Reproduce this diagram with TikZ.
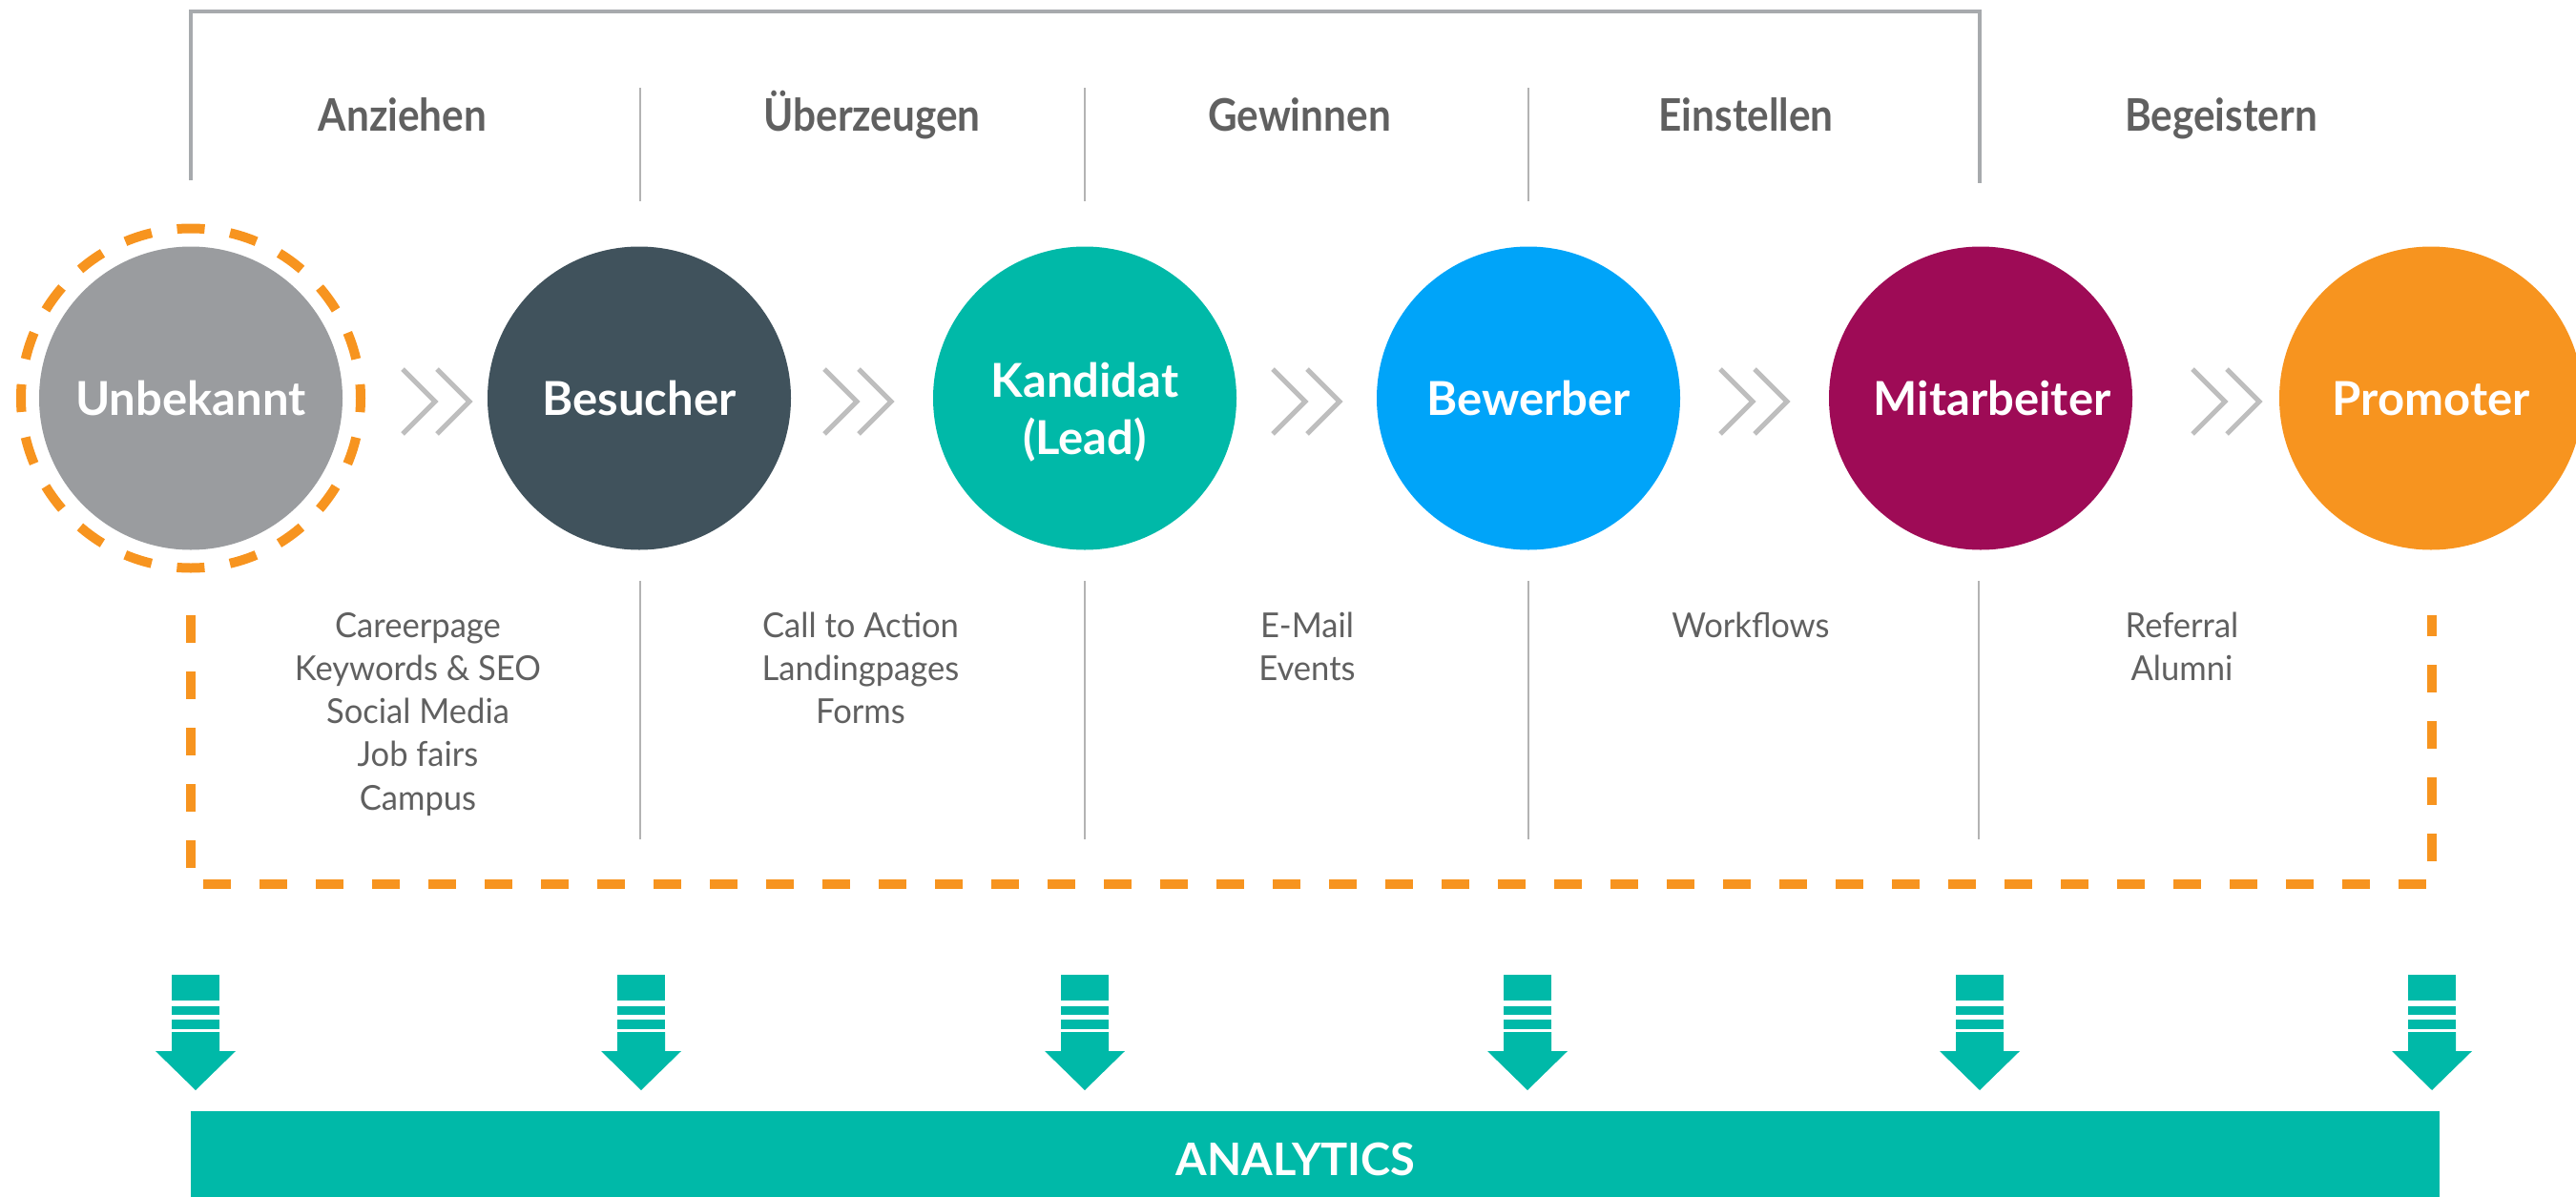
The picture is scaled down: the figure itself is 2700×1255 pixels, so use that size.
\documentclass[tikz,border=0pt]{standalone}
\usepackage{fontspec}
\setmainfont{Lato}
\newfontfamily\hdrfont[FakeStretch=0.9]{Lato}
\newfontfamily\bodyfont[FakeStretch=0.96]{Lato}
\definecolor{cgrey}{HTML}{9A9C9F}
\definecolor{cslate}{HTML}{40525C}
\definecolor{cteal}{HTML}{00B9A8}
\definecolor{cblue}{HTML}{00A4F9}
\definecolor{cberry}{HTML}{9E0B56}
\definecolor{corange}{HTML}{F7941F}
\definecolor{linegrey}{HTML}{A7AAAD}
\definecolor{divgrey}{HTML}{B3B3B3}
\definecolor{chevgrey}{HTML}{BEBEBE}
\definecolor{txtgrey}{HTML}{606060}
\begin{document}
\begin{tikzpicture}[x=1pt,y=-1pt,
  stage/.style={circle,inner sep=0pt,minimum size=318pt,text=white,
    font=\fontsize{49}{60}\selectfont\bfseries,align=center},
  single/.style={text height=36pt,text depth=0pt},
  header/.style={anchor=base,text=txtgrey,inner sep=0pt,
    font=\hdrfont\fontsize{47}{56}\selectfont\bfseries},
  body/.style={anchor=north,text=txtgrey,inner sep=0pt,align=center,
    font=\bodyfont\fontsize{36}{45.25}\selectfont},
  bracketline/.style={draw=linegrey,line width=3.5pt},
  divline/.style={draw=divgrey,line width=2.5pt},
  chev/.style={draw=chevgrey,line width=5pt},
  orangedash/.style={draw=corange,line width=10pt,dash pattern=on 29pt off 30pt},
  anafill/.style={fill=cteal}
]
\useasboundingbox (0,0) rectangle (2700,1255);

% stage circles
\node[stage,single,fill=cgrey]  (un)  at (200,417.5)  {Unbekannt};
\node[stage,single,fill=cslate] (be)  at (670,417.5)  {Besucher};
\node[stage,fill=cteal]         (ka)  at (1137,417.5) {};
\node[text=white,font=\fontsize{49}{60}\selectfont\bfseries,align=center,yshift=-15pt]
  (kat) at (ka.center) {Kandidat\\(Lead)};
\node[stage,single,fill=cblue]  (bw)  at (1602,417.5) {Bewerber};
\node[stage,fill=cberry] (mi)  at (2076,417.5) {};
\node[text=white,font=\fontsize{49}{60}\selectfont\bfseries,text height=36pt,text depth=0pt,xshift=12pt]
  (mit) at (mi.center) {Mitarbeiter};
\node[stage,single,fill=corange](pr)  at (2548,417.5) {Promoter};

% dashed ring around Unbekannt
\draw[draw=corange,line width=10pt,dash pattern=on 29pt off 26.92pt,dash phase=14.5pt]
  (un.center) circle[radius=178pt];

% chevrons
\foreach \c in {458,900,1370,1839,2334}{
  \draw[chev] (\c-36,387) -- (\c-2,421) -- (\c-36,455);
  \draw[chev] (\c,387) -- (\c+34,421) -- (\c,455);
}

% top bracket
\draw[bracketline] (200,189) -- (200,12) -- (2075,12) -- (2075,192);
\foreach \dx in {671,1137,1602}{
  \draw[divline] (\dx,92) -- (\dx,211);
}

% headers
\node[header] (h1) at (422,137)  {Anziehen};
\node[header] (h2) at (914,137)  {Überzeugen};
\node[header] (h3) at (1362,137) {Gewinnen};
\node[header] (h4) at (1830,137) {Einstellen};
\node[header] (h5) at (2328,137) {Begeistern};

% lower dividers
\foreach \dx in {671,1137,1602,2074}{
  \draw[divline] (\dx,609) -- (\dx,880);
}

% body texts
\node[body] (t1) at (438,636.3)  {\strut Careerpage\\Keywords \& SEO\\Social Media\\Job fairs\\Campus};
\node[body] (t2) at (902,636.3)  {\strut Call to Action\\Landingpages\\Forms};
\node[body] (t3) at (1370,636.3) {\strut E-Mail\\Events};
\node[body] (t4) at (1835,636.3) {\strut Workflows};
\node[body] (t5) at (2287,636.3) {\strut Referral\\Alumni};

% orange dashed frame
\draw[orangedash] (200,645) -- (200,927) -- (2549,927) -- (2549,645);

% down arrows
\foreach \ax in {205,672,1137,1601,2075,2549}{
  \fill[anafill] (\ax-25,1022) rectangle (\ax+25,1049);
  \fill[anafill] (\ax-25,1055) rectangle (\ax+25,1064);
  \fill[anafill] (\ax-25,1069) rectangle (\ax+25,1079);
  \fill[anafill] (\ax-25,1082) -- (\ax+25,1082) -- (\ax+25,1102) -- (\ax+42,1102)
     -- (\ax,1143) -- (\ax-42,1102) -- (\ax-25,1102) -- cycle;
}

% analytics bar
\node[anafill,anchor=north west,inner sep=0pt,minimum width=2357pt,minimum height=92pt]
  (bar) at (200,1165) {};
\node[anchor=base,text=white,inner sep=0pt,font=\fontsize{47}{56}\selectfont\bfseries]
  (anatext) at (1358,1232) {ANALYTICS};
\end{tikzpicture}
\end{document}
